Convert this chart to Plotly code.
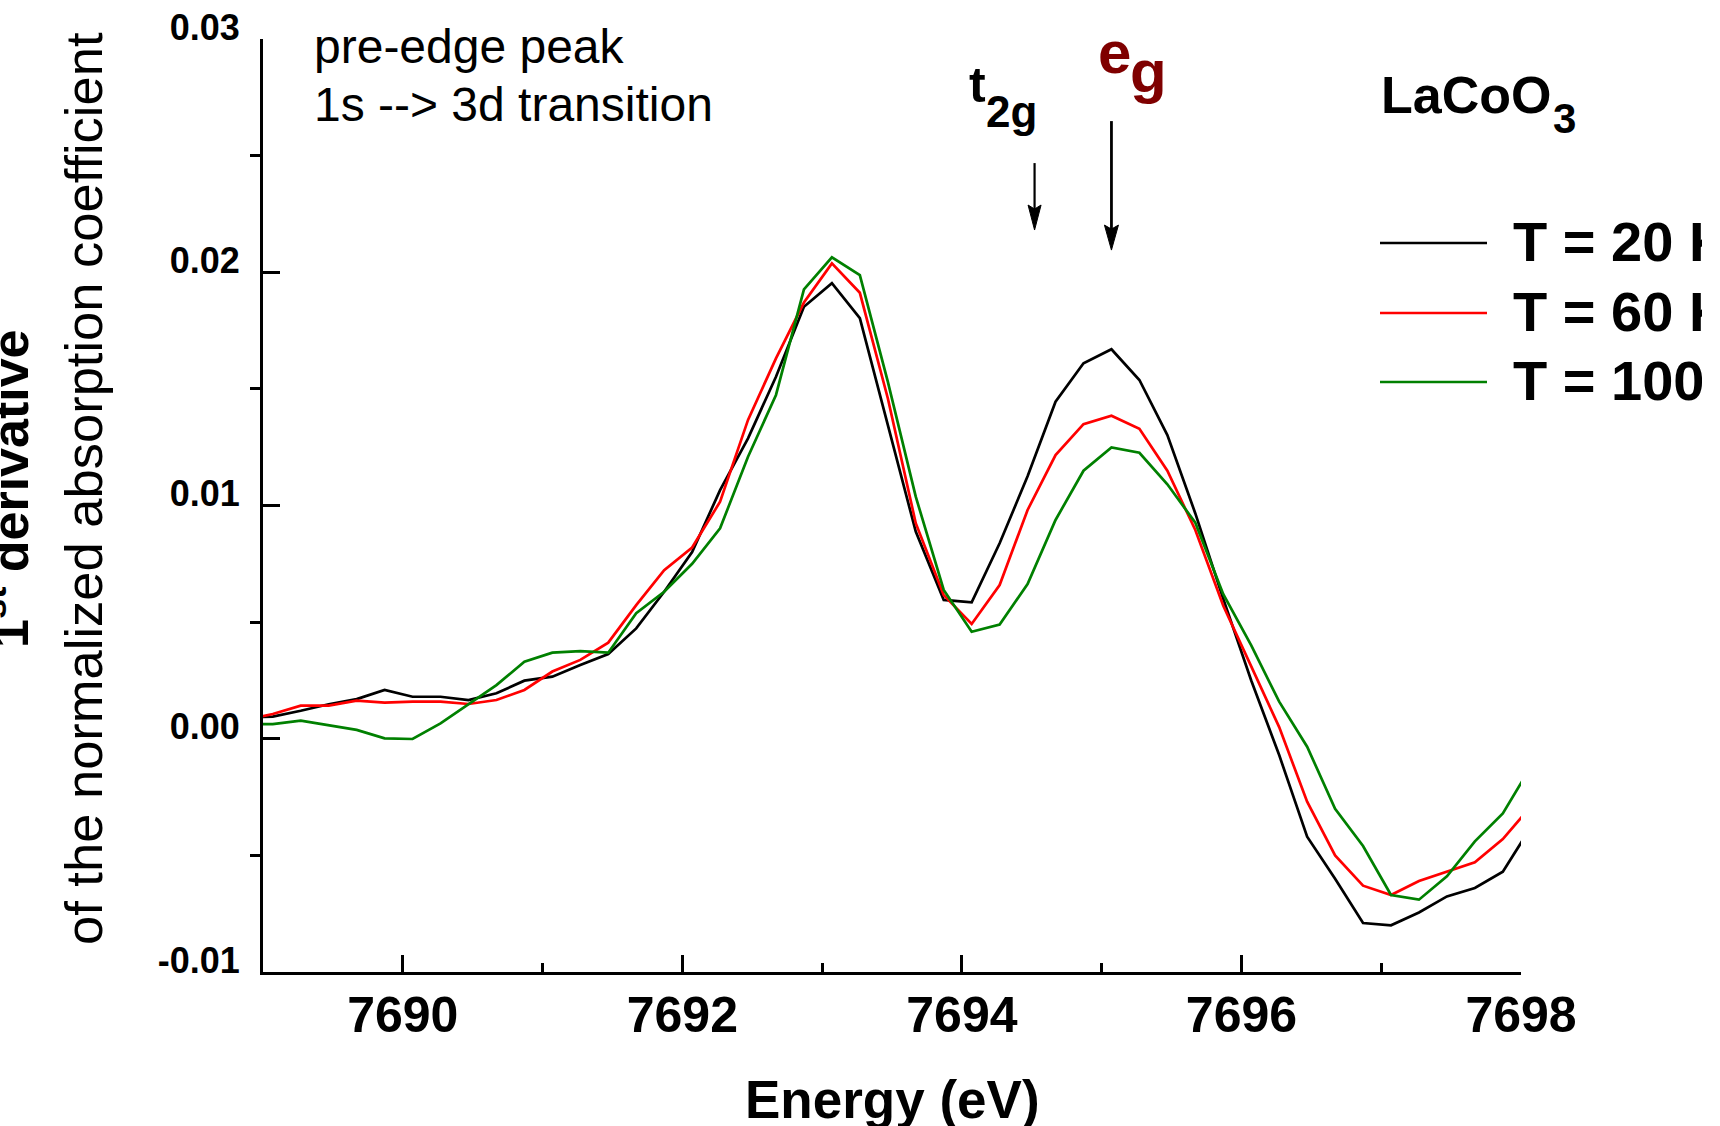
import plotly.graph_objects as go

# Photon energy grid (eV) and first derivative of the normalized absorption coefficient
energy_ev = [7688.87, 7689.07, 7689.27, 7689.47, 7689.67, 7689.87, 7690.07, 7690.27,
             7690.47, 7690.67, 7690.87, 7691.07, 7691.27, 7691.47, 7691.67, 7691.87,
             7692.07, 7692.27, 7692.47, 7692.67, 7692.87, 7693.07, 7693.27, 7693.47,
             7693.67, 7693.87, 7694.07, 7694.27, 7694.47, 7694.67, 7694.87, 7695.07,
             7695.27, 7695.47, 7695.67, 7695.87, 7696.07, 7696.27, 7696.47, 7696.67,
             7696.87, 7697.07, 7697.27, 7697.47, 7697.67, 7697.87, 7698.07]

deriv_20k = [0.0009, 0.00095, 0.0012, 0.00148, 0.0017, 0.00209, 0.0018, 0.0018,
             0.00166, 0.00195, 0.00249, 0.00266, 0.00316, 0.00363, 0.00473, 0.0063,
             0.0080, 0.01066, 0.01288, 0.01552, 0.01852, 0.01953, 0.01803, 0.01342,
             0.00888, 0.00595, 0.00585, 0.00838, 0.01125, 0.01445, 0.0161, 0.0167,
             0.01538, 0.01302, 0.00966, 0.0060, 0.0025, -0.0007, -0.0042, -0.0060,
             -0.0079, -0.0080, -0.00745, -0.00676, -0.0064, -0.0057, -0.0038]

deriv_60k = [0.0008, 0.00106, 0.00142, 0.00142, 0.00163, 0.00155, 0.00159, 0.00159,
             0.00149, 0.00166, 0.00209, 0.00288, 0.00338, 0.00412, 0.00573, 0.00723,
             0.0082, 0.01016, 0.01367, 0.01631, 0.0187, 0.02038, 0.01912, 0.0146,
             0.00924, 0.00616, 0.00492, 0.00659, 0.00981, 0.01216, 0.01349, 0.01385,
             0.01329, 0.01149, 0.00895, 0.0057, 0.0031, 0.0005, -0.0027, -0.0050,
             -0.0063, -0.0067, -0.0061, -0.0057, -0.0053, -0.0043, -0.0029]

deriv_100k = [0.00063, 0.00063, 0.00078, 0.00059, 0.00038, 0.00002, -0.00001, 0.00066,
              0.00149, 0.0023, 0.0033, 0.00369, 0.00376, 0.00369, 0.00538, 0.0063,
              0.0075, 0.00902, 0.01209, 0.01474, 0.01927, 0.02064, 0.01988, 0.01531,
              0.01038, 0.00638, 0.00459, 0.0049, 0.00663, 0.00938, 0.01149, 0.01249,
              0.01226, 0.01091, 0.00926, 0.0062, 0.0040, 0.00159, -0.00034, -0.0030,
              -0.0046, -0.0067, -0.0069, -0.0059, -0.0044, -0.0032, -0.0012]

series_names = ["T = 20 K", "T = 60 K", "T = 100 K"]
series_colors = ["#000000", "#ff0000", "#008000"]

x_tick_vals = [7690, 7692, 7694, 7696, 7698]
x_tick_text = ["7690", "7692", "7694", "7696", "7698"]
x_minor_vals = [7691, 7693, 7695, 7697]
y_tick_vals = [-0.01, 0.00, 0.01, 0.02, 0.03]
y_tick_text = ["-0.01", "0.00", "0.01", "0.02", "0.03"]
y_minor_vals = [-0.005, 0.005, 0.015, 0.025]

# Crystal-field level markers: energy of the arrow, arrow tail and tip heights
t2g_energy, t2g_tail, t2g_tip = 7694.52, 0.02468, 0.02181
eg_energy, eg_tail, eg_tip = 7695.07, 0.02648, 0.02095

X_RANGE = [7689, 7698]
Y_RANGE = [-0.01, 0.03]

# Page geometry (px)
W, H = 1702, 1126
PL, PR, PT, PB = 263, 1521, 39, 972
PW, PH = PR - PL, PB - PT
Y_PER_PX = (Y_RANGE[1] - Y_RANGE[0]) / PH

FONT = "Liberation Sans, Arial, Helvetica, sans-serif"


def fx(px):
    return (px - PL) / PW


def fy(py):
    return (PB - py) / PH


def label(text, x, y, size, xanchor="left", yanchor="middle", bold=False,
          color="black", angle=0):
    font = dict(family=FONT, size=size, color=color)
    if bold:
        font["weight"] = "bold"
    return dict(text=text, xref="paper", yref="paper", x=fx(x), y=fy(y),
                xanchor=xanchor, yanchor=yanchor, textangle=angle,
                showarrow=False, font=font)


fig = go.Figure()

series = [deriv_20k, deriv_60k, deriv_100k]
for name, vals, color in zip(series_names, series, series_colors):
    fig.add_trace(go.Scatter(x=energy_ev, y=vals, mode="lines", name=name,
                             line=dict(color=color, width=2.7), showlegend=False))

annotations = []
shapes = []

# Hand-drawn style legend on the right
legend_rows = [243, 313, 382]
for name, color, row in zip(series_names, series_colors, legend_rows):
    shapes.append(dict(type="line", xref="paper", yref="paper",
                       x0=fx(1380), x1=fx(1487), y0=fy(row), y1=fy(row),
                       line=dict(color=color, width=2.7)))
    annotations.append(label(name, 1511, row - 2, 56, bold=True))

annotations += [
    label("LaCoO", 1379, 95, 52, bold=True),
    label("3", 1551, 118, 42, bold=True),
    label("pre-edge peak", 312, 47, 48),
    label("1s --> 3d transition", 312, 104, 48),
    label("t", 967, 115, 50, yanchor="bottom", bold=True),
    label("2g", 984, 138, 44, yanchor="bottom", bold=True),
    label("e", 1096, 88, 60, yanchor="bottom", bold=True, color="#7f0000"),
    label("g", 1128, 107, 60, yanchor="bottom", bold=True, color="#7f0000"),
    label("Energy (eV)", 892, 1068, 53, xanchor="center", yanchor="top", bold=True),
    label("of the normalized absorption coefficient", 84, 489, 52.5,
          xanchor="center", angle=-90),
    label("1<sup>st</sup> derivative", 6, 489, 52, xanchor="center", bold=True,
          angle=-90),
]

# Downward arrows marking the t2g and eg features
for e_pos, tail, tip, shaft_w, half_w in [(t2g_energy, t2g_tail, t2g_tip, 2.2, 6.5),
                                          (eg_energy, eg_tail, eg_tip, 2.8, 7)]:
    shapes.append(dict(type="line", xref="x", yref="y", x0=e_pos, x1=e_pos,
                       y0=tail, y1=tip + 12 * Y_PER_PX,
                       line=dict(color="black", width=shaft_w)))
    shapes.append(dict(type="path", xref="x", yref="y",
                       xsizemode="pixel", ysizemode="pixel",
                       xanchor=e_pos, yanchor=tip,
                       path=f"M0,0 L{-half_w},25 L0,21 L{half_w},25 Z",
                       fillcolor="black", line=dict(color="black", width=1)))

fig.update_layout(
    width=W, height=H,
    margin=dict(l=PL, r=W - PR, t=PT, b=H - PB, autoexpand=False),
    paper_bgcolor="white", plot_bgcolor="white",
    annotations=annotations, shapes=shapes,
    xaxis=dict(range=X_RANGE, showgrid=False, zeroline=False,
               showline=True, linecolor="black", linewidth=3,
               tickmode="array", tickvals=x_tick_vals, ticktext=x_tick_text,
               ticks="inside", ticklen=17, tickwidth=2.5, tickcolor="black",
               ticklabelstandoff=-3,
               tickfont=dict(family=FONT, size=50, color="black", weight="bold"),
               minor=dict(tickmode="array", tickvals=x_minor_vals, ticks="inside",
                          ticklen=9, tickwidth=2.5, tickcolor="black", showgrid=False)),
    yaxis=dict(range=Y_RANGE, showgrid=False, zeroline=False,
               showline=True, linecolor="black", linewidth=3,
               tickmode="array", tickvals=y_tick_vals, ticktext=y_tick_text,
               ticks="inside", ticklen=17, tickwidth=2.5, tickcolor="black",
               ticklabelstandoff=13, ticklabelshift=-12,
               tickfont=dict(family=FONT, size=36, color="black", weight="bold"),
               minor=dict(tickmode="array", tickvals=y_minor_vals, ticks="outside",
                          ticklen=10, tickwidth=2.5, tickcolor="black", showgrid=False)),
)

fig.write_html("out.html")
